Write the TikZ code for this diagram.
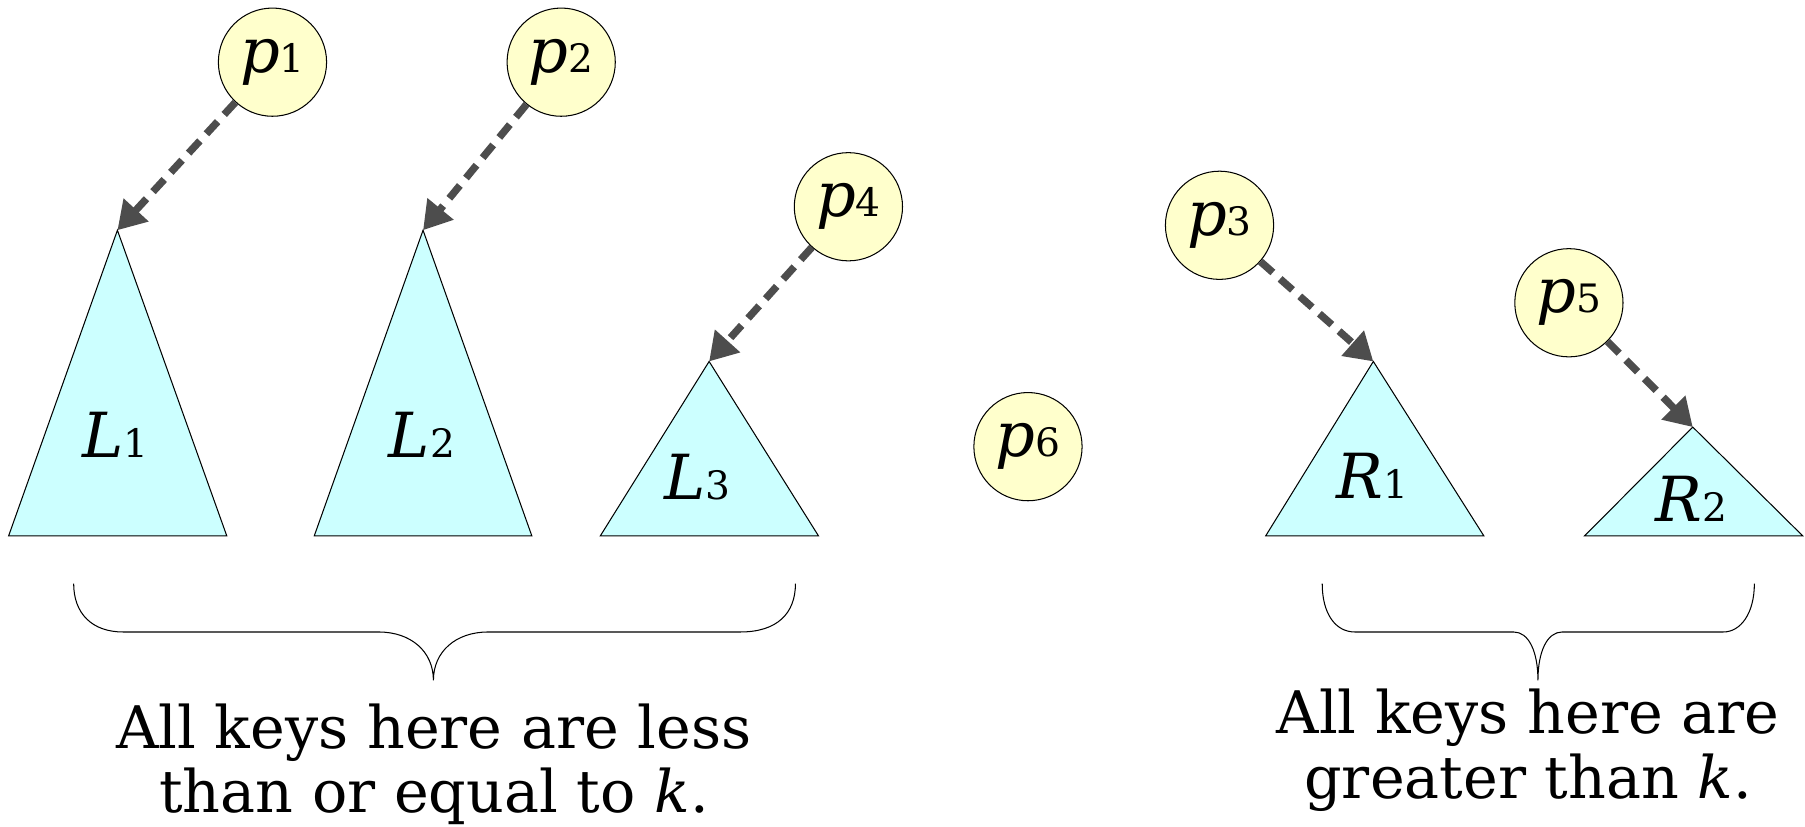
\documentclass[tikz,border=0pt]{standalone}
\usepackage{fontspec}
\setmainfont{DejaVu Serif}
\usetikzlibrary{arrows.meta}
\definecolor{pfill}{HTML}{FFFFCC}
\definecolor{tfill}{HTML}{CCFFFF}
\definecolor{arrgray}{HTML}{4D4D4D}
\newcommand{\pname}[2]{\textit{#1}{\fontsize{17pt}{17pt}\selectfont #2}}
\tikzset{
  ptr/.style={draw=black, fill=pfill, circle, line width=0.45pt, inner sep=0pt, minimum size=47pt, font=\fontsize{27pt}{30pt}\selectfont},
  tri/.style={draw=black, fill=tfill, line width=0.45pt, line join=miter},
  tlabel/.style={anchor=base, inner sep=0pt, font=\fontsize{27pt}{30pt}\selectfont},
  link/.style={draw=arrgray, line width=3.2pt, dash pattern=on 7.2pt off 4.2pt, -{Triangle[length=12pt,width=14pt]}},
  brace/.style={draw=black, line width=0.45pt},
  caption/.style={anchor=base, inner sep=0pt, font=\fontsize{25.5pt}{28pt}\selectfont}
}
\begin{document}
\begin{tikzpicture}[x=0.5pt, y=-0.5pt]
\useasboundingbox (0,0) rectangle (1568,718);

% triangle corners
\coordinate (L1t) at (102,200);   \coordinate (L1l) at (7.5,465.5);   \coordinate (L1r) at (197,465.5);
\coordinate (L2t) at (367.5,200); \coordinate (L2l) at (273,465.5);   \coordinate (L2r) at (462,465.5);
\coordinate (L3t) at (616,314);   \coordinate (L3l) at (521.5,465.5); \coordinate (L3r) at (711,465.5);
\coordinate (R1t) at (1193,314);  \coordinate (R1l) at (1099.5,465.5);\coordinate (R1r) at (1289,465.5);
\coordinate (R2t) at (1470.5,371);\coordinate (R2l) at (1376.5,465.5);\coordinate (R2r) at (1566,465.5);

\path[tri] (L1t) -- (L1l) -- (L1r) -- cycle;
\path[tri] (L2t) -- (L2l) -- (L2r) -- cycle;
\path[tri] (L3t) -- (L3l) -- (L3r) -- cycle;
\path[tri] (R1t) -- (R1l) -- (R1r) -- cycle;
\path[tri] (R2t) -- (R2l) -- (R2r) -- cycle;

\node[tlabel] (L1) at (100,397) {\pname{L}{1}};
\node[tlabel] (L2) at (366.5,397) {\pname{L}{2}};
\node[tlabel] (L3) at (606,434) {\pname{L}{3}};
\node[tlabel] (R1) at (1192,433) {\pname{R}{1}};
\node[tlabel] (R2) at (1469,453) {\pname{R}{2}};

% pointer circles
\node[ptr] (p1) at (236.7,54) {\pname{p}{1}};
\node[ptr] (p2) at (487.5,54) {\pname{p}{2}};
\node[ptr] (p4) at (737,179.6) {\pname{p}{4}};
\node[ptr] (p3) at (1059.4,195.7) {\pname{p}{3}};
\node[ptr] (p5) at (1362.9,263) {\pname{p}{5}};
\node[ptr] (p6) at (893,388) {\pname{p}{6}};

% dashed pointers
\draw[link] (p1) -- (L1t);
\draw[link] (p2) -- (L2t);
\draw[link] (p4) -- (L3t);
\draw[link] (p3) -- (R1t);
\draw[link] (p5) -- (R2t);

% braces
\coordinate (bl0) at (64,507);   \coordinate (bl1) at (107,549); \coordinate (bl2) at (329,549);
\coordinate (blt) at (376.5,591);
\coordinate (bl3) at (424,549);  \coordinate (bl4) at (643,549); \coordinate (bl5) at (691,507);
\draw[brace] (bl0) .. controls (64,533) and (80,549) .. (bl1) -- (bl2)
  .. controls (357,549) and (376.5,566) .. (blt)
  .. controls (376.5,566) and (396,549) .. (bl3) -- (bl4)
  .. controls (675,549) and (691,533) .. (bl5);

\coordinate (br0) at (1148.6,507); \coordinate (br1) at (1177,549); \coordinate (br2) at (1315,549);
\coordinate (brt) at (1336,591);
\coordinate (br3) at (1357,549);   \coordinate (br4) at (1497,549); \coordinate (br5) at (1524,507);
\draw[brace] (br0) .. controls (1148.6,533) and (1160,549) .. (br1) -- (br2)
  .. controls (1328,549) and (1336,566) .. (brt)
  .. controls (1336,566) and (1344,549) .. (br3) -- (br4)
  .. controls (1512,549) and (1524,533) .. (br5);

% captions
\node[caption] (capL1) at (377,650) {All keys here are less};
\node[caption] (capL2) at (377,706) {than or equal to \textit{k}.};
\node[caption] (capR1) at (1327.5,637) {All keys here are};
\node[caption] (capR2) at (1327.5,694) {greater than \textit{k}.};
\end{tikzpicture}
\end{document}
